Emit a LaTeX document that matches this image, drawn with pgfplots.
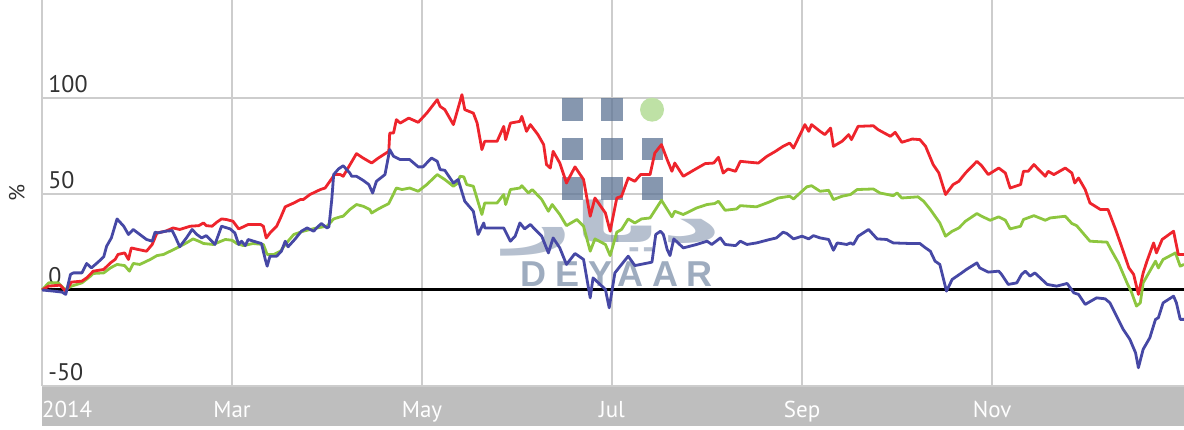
\documentclass[border=0pt]{standalone}
\usepackage{fontspec}
\setmainfont{PT Sans}
\newfontfamily\logofont[LetterSpace=24]{Liberation Sans}
\newfontfamily\arabicfont[Script=Arabic]{DejaVu Sans}
\TeXXeTstate=1
\usepackage{graphicx}
\usepackage{pgfplots}
\pgfplotsset{compat=1.18}
\definecolor{cred}{RGB}{238,36,44}
\definecolor{cgreen}{RGB}{141,198,63}
\definecolor{cblue}{RGB}{70,72,165}
\definecolor{band}{RGB}{190,190,190}
\definecolor{gridc}{RGB}{205,205,205}
\definecolor{wsq}{RGB}{94,116,148}
\definecolor{wcirc}{RGB}{190,225,165}
\definecolor{labc}{RGB}{50,50,50}
\begin{document}
\begin{tikzpicture}
\begin{axis}[
  set layers,
  scale only axis,
  width=571pt, height=193pt,
  xmin=0, xmax=12.02, ymin=-50, ymax=151,
  axis line style={draw=none},
  clip=false,
  major tick length=0pt,
  xtick={0,2,4,6,8,10},
  xticklabels={\rlap{2014},Mar,May,Jul,Sep,Nov},
  ytick={-50,0,50,100},
  yticklabels={-50,0,50,100},
  grid=major,
  grid style={gridc, line width=0.8pt},
  xticklabel style={anchor=base, inner sep=0pt, yshift=-15.7pt, text=white, font=\fontsize{11.5}{12}\selectfont},
  yticklabel style={anchor=base west, inner sep=0pt, xshift=3pt, yshift=2.6pt, text=labc, font=\fontsize{12}{12}\selectfont},
  every axis plot/.append style={line width=1.4pt, line join=round},
]
\begin{pgfonlayer}{axis background}
\fill[band] (rel axis cs:0,0) rectangle ([yshift=-20pt]rel axis cs:1,0);
\end{pgfonlayer}
\node[rotate=90, text=labc, font=\fontsize{11}{11}\selectfont] at ([xshift=-12.5pt]rel axis cs:0,0.5) {\%};
% watermark
\begin{scope}[opacity=0.75]
\fill[wsq] (axis cs:5.474,100.2) rectangle (axis cs:5.695,88.2);
\fill[wsq] (axis cs:5.884,100.2) rectangle (axis cs:6.116,88.2);
\fill[wsq] (axis cs:5.474,79.3) rectangle (axis cs:5.695,67.9);
\fill[wsq] (axis cs:5.884,79.3) rectangle (axis cs:6.116,67.9);
\fill[wsq] (axis cs:6.316,79.3) rectangle (axis cs:6.537,67.9);
\fill[wsq] (axis cs:5.474,59.0) rectangle (axis cs:5.695,47.1);
\fill[wsq] (axis cs:5.884,59.0) rectangle (axis cs:6.116,47.1);
\fill[wsq] (axis cs:6.316,59.0) rectangle (axis cs:6.537,47.1);
\end{scope}
\fill[wcirc] (axis cs:6.421,93.9) circle[radius=6pt];
\node[text=wsq, opacity=0.45, inner sep=0pt, anchor=south] at (axis cs:6.02,17.5) {\scalebox{2.1}[1.0]{\fontsize{28}{28}\arabicfont\bfseries\beginR ديار\endR}};
\node[text=wsq, opacity=0.6, inner sep=0pt] at (axis cs:6.05,8.1) {\fontsize{18}{18}\logofont\bfseries DEYAAR};
\draw[black, line width=1.5pt] (axis cs:0,0) -- (axis cs:12.02,0);
% green
\addplot[cgreen] coordinates {
(0,0) (0.07,3.7) (0.17,3.7) (0.24,0.3) (0.31,2.0) (0.42,3.7) (0.51,7.2) (0.54,8.6) (0.65,8.9) (0.72,11.5) (0.79,13.3) (0.87,12.7) (0.92,9.8) (0.96,13.8) (1.03,13.3) (1.14,15.9) (1.21,17.9) (1.28,18.5) (1.35,20.2) (1.42,21.9) (1.52,24.5) (1.59,26.6) (1.65,25.4) (1.70,24.2) (1.80,23.7) (1.93,26.3) (2.00,25.9) (2.05,24.2) (2.12,23.1) (2.22,24.2) (2.33,23.7) (2.37,18.5) (2.44,18.5) (2.51,20.2) (2.56,23.7) (2.65,28.9) (2.75,30.6) (2.89,32.3) (3.00,33.2) (3.07,37.0) (3.14,38.1) (3.17,38.4) (3.24,41.9) (3.31,44.5) (3.38,43.6) (3.45,41.9) (3.47,40.1) (3.54,42.2) (3.65,45.0) (3.73,53.1) (3.79,52.3) (3.87,53.1) (3.96,51.4) (4.05,54.9) (4.16,60.1) (4.24,57.5) (4.33,54.0) (4.37,55.4) (4.40,59.2) (4.44,58.9) (4.47,54.9) (4.54,54.0) (4.63,39.3) (4.66,45.3) (4.79,45.3) (4.86,49.7) (4.88,44.5) (4.93,52.3) (5.03,53.1) (5.05,54.3) (5.12,50.5) (5.16,52.3) (5.26,47.1) (5.33,41.0) (5.37,44.5) (5.45,39.3) (5.52,33.5) (5.63,36.7) (5.70,33.2) (5.77,20.2) (5.82,26.6) (5.93,23.7) (5.98,17.9) (6.05,30.1) (6.10,31.5) (6.17,37.0) (6.24,34.9) (6.31,37.0) (6.40,37.5) (6.52,46.7) (6.63,38.1) (6.66,41.0) (6.75,39.3) (6.89,42.7) (7.00,44.5) (7.08,45.0) (7.12,46.2) (7.19,41.5) (7.31,42.2) (7.35,43.9) (7.52,43.3) (7.65,45.7) (7.75,47.9) (7.87,48.8) (7.91,47.4) (8.05,53.7) (8.10,54.3) (8.19,51.4) (8.28,51.9) (8.33,47.1) (8.42,48.8) (8.51,49.7) (8.58,52.3) (8.75,52.6) (8.82,50.5) (8.96,49.1) (9.00,50.5) (9.05,47.9) (9.22,48.5) (9.28,46.2) (9.35,41.9) (9.40,38.4) (9.45,34.9) (9.51,28.0) (9.58,30.6) (9.65,32.3) (9.72,35.8) (9.84,39.8) (9.89,38.4) (9.98,36.3) (10.07,38.1) (10.14,36.3) (10.19,31.8) (10.30,33.2) (10.33,36.7) (10.44,38.7) (10.56,36.3) (10.61,37.5) (10.77,38.4) (10.84,34.6) (10.89,33.5) (10.94,30.6) (11.03,25.4) (11.21,24.9) (11.26,20.2) (11.33,14.1) (11.42,3.7) (11.47,-1.5) (11.52,-8.4) (11.56,-6.7) (11.59,3.7) (11.66,9.8) (11.72,15.0) (11.75,11.5) (11.80,15.9) (11.93,19.3) (11.98,12.4) (12.02,13.3)
};
% red
\addplot[cred] coordinates {
(0,0) (0.07,2.0) (0.19,2.5) (0.25,-0.6) (0.31,4.1) (0.42,4.6) (0.47,6.3) (0.54,9.8) (0.65,10.7) (0.72,14.1) (0.77,15.9) (0.80,18.5) (0.87,19.3) (0.91,15.9) (0.94,21.9) (1.01,21.1) (1.10,20.2) (1.16,23.7) (1.21,29.7) (1.30,30.6) (1.38,32.3) (1.45,31.5) (1.56,33.2) (1.65,33.5) (1.70,34.9) (1.73,33.5) (1.79,33.2) (1.84,35.3) (1.89,37.0) (1.94,36.7) (2.01,35.8) (2.07,31.8) (2.12,32.9) (2.17,34.1) (2.30,34.1) (2.33,33.2) (2.36,27.1) (2.40,29.7) (2.47,33.2) (2.51,37.5) (2.56,43.3) (2.65,45.3) (2.72,47.1) (2.75,47.1) (2.82,49.7) (2.93,52.3) (2.98,53.1) (3.03,56.6) (3.08,60.1) (3.14,60.1) (3.17,59.2) (3.31,71.0) (3.38,68.7) (3.47,66.1) (3.54,68.7) (3.65,72.2) (3.66,81.7) (3.70,81.7) (3.73,88.7) (3.77,86.9) (3.86,89.5) (3.96,87.3) (4.05,92.1) (4.16,99.1) (4.19,95.6) (4.24,93.9) (4.33,86.1) (4.42,101.7) (4.45,93.9) (4.54,92.1) (4.58,86.9) (4.63,73.1) (4.66,77.4) (4.79,77.4) (4.86,85.2) (4.88,78.3) (4.93,86.9) (5.03,87.8) (5.05,90.4) (5.10,82.6) (5.14,86.1) (5.22,80.9) (5.28,75.7) (5.31,65.3) (5.35,63.5) (5.38,72.2) (5.45,66.1) (5.52,55.7) (5.61,64.1) (5.70,57.5) (5.77,38.4) (5.82,47.9) (5.93,40.1) (5.98,30.6) (6.05,47.9) (6.10,48.8) (6.17,58.3) (6.24,56.6) (6.30,60.1) (6.40,60.1) (6.45,71.3) (6.52,75.7) (6.58,67.9) (6.63,61.8) (6.66,66.1) (6.75,59.2) (6.87,62.7) (6.98,65.8) (7.07,66.1) (7.12,69.1) (7.17,60.9) (7.22,63.0) (7.30,61.8) (7.35,67.0) (7.45,66.5) (7.54,66.1) (7.63,69.6) (7.72,72.2) (7.80,74.8) (7.87,76.5) (7.91,73.9) (8.03,86.1) (8.07,82.6) (8.10,86.1) (8.19,82.6) (8.24,80.9) (8.30,84.3) (8.33,74.8) (8.42,77.4) (8.49,80.9) (8.52,78.3) (8.59,85.2) (8.75,85.5) (8.80,83.5) (8.93,80.0) (8.98,82.1) (9.05,76.9) (9.16,78.6) (9.24,78.3) (9.30,74.8) (9.38,65.3) (9.44,60.9) (9.51,49.7) (9.59,54.9) (9.65,56.6) (9.72,60.9) (9.84,67.0) (9.89,64.7) (9.96,60.1) (10.07,63.5) (10.14,60.9) (10.19,53.1) (10.30,54.9) (10.33,61.8) (10.38,61.8) (10.44,65.3) (10.56,59.2) (10.59,61.8) (10.65,60.1) (10.77,63.5) (10.84,60.9) (10.87,55.7) (10.91,58.3) (10.98,52.3) (11.03,45.3) (11.14,41.9) (11.22,41.9) (11.30,31.5) (11.35,24.5) (11.44,11.5) (11.49,8.1) (11.54,-2.3) (11.59,8.9) (11.63,15.0) (11.70,24.5) (11.73,19.3) (11.79,26.3) (11.91,30.6) (11.96,18.5) (12.02,18.5)
};
% blue
\addplot[cblue] coordinates {
(0,0) (0.12,-0.6) (0.21,-1.1) (0.25,-2.3) (0.30,8.1) (0.33,8.9) (0.42,8.9) (0.47,13.8) (0.52,11.5) (0.59,14.5) (0.65,17.3) (0.68,22.8) (0.73,27.1) (0.79,37.0) (0.86,33.2) (0.91,28.9) (0.96,31.5) (1.03,28.9) (1.10,26.3) (1.16,25.4) (1.19,30.1) (1.22,29.7) (1.30,30.6) (1.37,30.9) (1.40,28.0) (1.45,22.5) (1.52,27.1) (1.58,31.5) (1.63,28.9) (1.68,27.1) (1.73,28.3) (1.82,23.7) (1.89,33.2) (1.98,31.8) (2.03,29.7) (2.07,23.7) (2.10,25.4) (2.14,23.1) (2.17,26.3) (2.26,24.9) (2.31,24.2) (2.35,15.9) (2.37,12.4) (2.40,17.6) (2.47,17.6) (2.52,20.2) (2.56,25.4) (2.59,22.5) (2.66,26.3) (2.73,30.6) (2.79,32.3) (2.86,30.6) (2.89,32.3) (2.94,34.6) (3.00,32.3) (3.02,32.9) (3.05,47.1) (3.07,60.1) (3.12,63.0) (3.17,64.7) (3.24,60.9) (3.26,59.2) (3.31,59.2) (3.38,57.1) (3.44,54.9) (3.48,50.5) (3.52,56.6) (3.61,60.1) (3.66,73.1) (3.70,69.6) (3.77,67.9) (3.87,67.9) (3.96,64.1) (4.01,64.1) (4.10,68.7) (4.16,67.0) (4.19,62.7) (4.24,62.3) (4.33,55.7) (4.38,57.5) (4.45,46.2) (4.54,41.0) (4.59,28.9) (4.65,34.9) (4.66,32.3) (4.86,32.3) (4.93,25.4) (4.98,28.0) (5.03,34.9) (5.08,31.8) (5.14,34.1) (5.19,31.5) (5.26,28.0) (5.33,19.3) (5.38,27.1) (5.45,21.9) (5.52,13.3) (5.61,19.0) (5.70,15.9) (5.77,-4.1) (5.80,6.3) (5.93,0.3) (5.97,-9.3) (6.03,8.9) (6.10,13.3) (6.17,17.6) (6.24,12.7) (6.42,14.5) (6.46,28.9) (6.51,30.6) (6.54,28.9) (6.58,21.1) (6.61,17.9) (6.65,26.6) (6.75,21.9) (6.89,23.7) (7.00,25.4) (7.05,23.7) (7.14,27.1) (7.19,23.7) (7.30,23.1) (7.35,25.4) (7.42,23.7) (7.52,24.5) (7.66,26.3) (7.73,27.1) (7.80,30.1) (7.84,29.4) (7.91,26.6) (8.00,28.0) (8.07,26.6) (8.12,28.3) (8.19,27.1) (8.28,26.3) (8.33,20.7) (8.37,24.5) (8.47,23.7) (8.51,24.5) (8.54,23.7) (8.59,28.0) (8.70,31.5) (8.79,26.6) (8.89,26.3) (8.96,24.5) (9.14,24.2) (9.24,24.2) (9.30,21.9) (9.35,20.2) (9.40,15.0) (9.45,13.3) (9.52,-0.6) (9.58,5.5) (9.63,7.2) (9.68,8.9) (9.73,10.7) (9.84,14.1) (9.87,11.5) (9.96,9.3) (10.07,9.8) (10.10,8.1) (10.17,2.9) (10.26,3.7) (10.31,8.1) (10.35,9.8) (10.40,7.2) (10.45,8.9) (10.58,2.9) (10.68,2.0) (10.79,3.4) (10.86,-1.5) (10.91,-2.3) (10.98,-7.5) (11.10,-4.1) (11.19,-4.6) (11.24,-6.7) (11.31,-13.6) (11.38,-20.5) (11.45,-25.7) (11.51,-32.7) (11.54,-40.5) (11.59,-30.9) (11.66,-24.9) (11.72,-15.3) (11.75,-14.5) (11.80,-6.7) (11.91,-3.2) (11.94,-6.7) (11.98,-15.3) (12.02,-15.3)
};
\end{axis}
\pgfresetboundingbox
\useasboundingbox (-21pt,-21.5pt) rectangle (571pt,193pt);
\end{tikzpicture}
\end{document}
